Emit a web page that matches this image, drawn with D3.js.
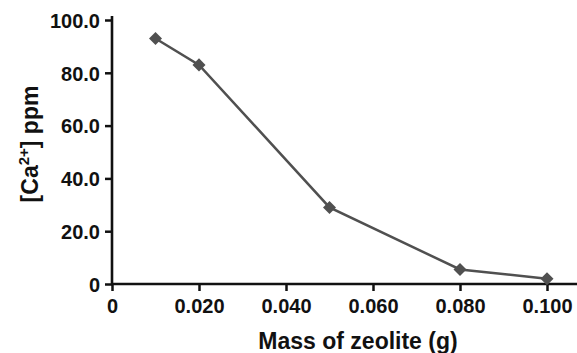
<!DOCTYPE html>
<html>
<head>
<meta charset="utf-8">
<script src="https://cdn.jsdelivr.net/npm/d3@7"></script>
<style>
  html, body { margin: 0; padding: 0; background: #fff; }
  svg { display: block; }
  .tick text { font-family: "Liberation Sans", Arial, sans-serif; font-weight: bold; font-size: 20px; fill: #111; }
</style>
</head>
<body>
<svg id="chart" width="577" height="353"></svg>
<script>
// ── data ────────────────────────────────────────────────────────────────
const mass = [0.010, 0.020, 0.050, 0.080, 0.100];
const calcium = [93.0, 83.0, 29.0, 5.5, 2.0];
const xTicks = [0, 0.020, 0.040, 0.060, 0.080, 0.100];
const yTicks = [0, 20, 40, 60, 80, 100];

const svg = d3.select('#chart');
const x0 = 112, y0 = 284;

const x = d3.scaleLinear().domain([0, 0.1]).range([x0, 547]);
const y = d3.scaleLinear().domain([0, 100]).range([y0, 20]);

// axes
const yAxis = d3.axisLeft(y).tickValues(yTicks).tickSize(7).tickPadding(5)
  .tickFormat(d => d === 0 ? '0' : d3.format('.1f')(d));
const xAxis = d3.axisBottom(x).tickValues(xTicks).tickSize(7).tickPadding(8)
  .tickFormat(d => d === 0 ? '0' : d3.format('.3f')(d));

const gy = svg.append('g').attr('transform', `translate(${x0},0)`).call(yAxis);
const gx = svg.append('g').attr('transform', `translate(0,${y0})`).call(xAxis);

[gx, gy].forEach(g => {
  g.select('.domain').remove();
  g.selectAll('.tick line').attr('stroke', '#111').attr('stroke-width', 2.5);
});
gy.selectAll('.tick text').attr('dy', '0.36em');

// axis lines drawn separately so the x line runs to the right edge
svg.append('line').attr('x1', x0).attr('x2', x0).attr('y1', y(100) - 4).attr('y2', y0 + 1)
  .attr('stroke', '#111').attr('stroke-width', 2.6);
svg.append('line').attr('x1', x0 - 1).attr('x2', 577).attr('y1', y0).attr('y2', y0)
  .attr('stroke', '#111').attr('stroke-width', 2.6);

// series
const pts = mass.map((m, i) => [m, calcium[i]]);
svg.append('path').datum(pts)
  .attr('fill', 'none').attr('stroke', '#505050').attr('stroke-width', 2.5)
  .attr('d', d3.line().x(d => x(d[0])).y(d => y(d[1])));

const marker = d3.symbol().type(d3.symbolSquare).size(85);
svg.selectAll('.pt').data(pts).join('path')
  .attr('class', 'pt')
  .attr('transform', d => `translate(${x(d[0])},${y(d[1])}) rotate(45)`)
  .attr('d', marker)
  .attr('fill', '#505050');

// titles
svg.append('text')
  .attr('x', 358).attr('y', 349)
  .attr('text-anchor', 'middle')
  .attr('font-family', '"Liberation Sans", Arial, sans-serif')
  .attr('font-weight', 'bold').attr('font-size', 23).attr('fill', '#111')
  .text('Mass of zeolite (g)');

const yt = svg.append('text')
  .attr('transform', 'translate(38,144) rotate(-90)')
  .attr('text-anchor', 'middle')
  .attr('font-family', '"Liberation Sans", Arial, sans-serif')
  .attr('font-weight', 'bold').attr('font-size', 23).attr('fill', '#111');
yt.append('tspan').text('[Ca');
yt.append('tspan').attr('font-size', 15).attr('dy', -9).text('2+');
yt.append('tspan').attr('dy', 9).text('] ppm');
</script>
</body>
</html>
